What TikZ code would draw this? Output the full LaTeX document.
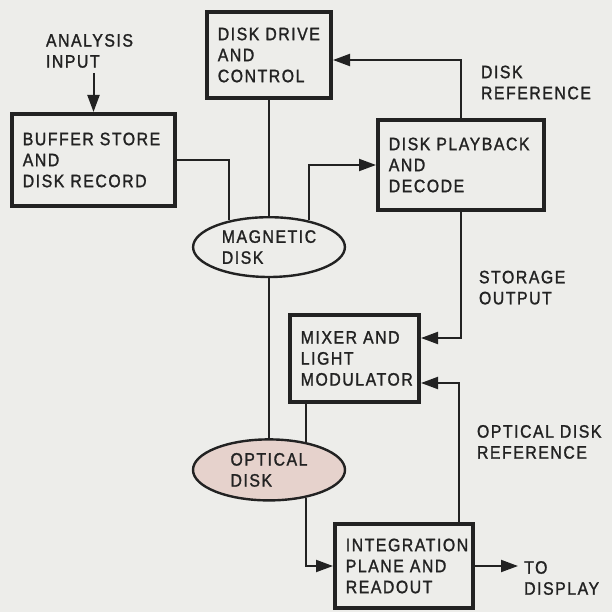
\documentclass[tikz,border=0pt]{standalone}
\usepackage{fontspec}
\setmainfont{Liberation Sans}[FakeStretch=0.88,LetterSpace=8.5,FakeBold=1.4]
\usetikzlibrary{arrows.meta,positioning,shapes.geometric}
\definecolor{ppaper}{HTML}{EDEDEA}
\definecolor{ppink}{HTML}{E6D2CC}
\definecolor{pline}{HTML}{222222}

\begin{document}
\begin{tikzpicture}[x=1pt,y=-1pt,
  font=\fontsize{18}{21}\selectfont,
  blk/.style 2 args={draw=pline,line width=3.6pt,align=left,text width=#1,
    minimum height=#2,inner xsep=11pt,inner ysep=2pt,text=pline},
  dsk/.style 2 args={ellipse,draw=pline,line width=2.4pt,align=left,
    minimum width=#1,minimum height=#2,inner sep=0pt,text=pline},
  q/.style={align=left,inner sep=0pt,text=pline},
  ln/.style={draw=pline,line width=2pt},
  arr/.style={ln,-{Triangle[length=17pt,width=12pt]}}]
  \fill[ppaper] (0,0) rectangle (612,612);
  \useasboundingbox (0,0) rectangle (612,612);
  \node[blk={102.4pt}{86.4pt}] (drive) at (269,55) {DISK~DRIVE\\AND\\CONTROL};
  \node[blk={141.4pt}{92.4pt},below left=12pt and 28pt of drive] (buffer)
    {BUFFER STORE\\AND\\DISK RECORD};
  \node[blk={144.4pt}{90.4pt},below right=18pt and 43pt of drive] (playback)
    {DISK PLAYBACK\\AND\\DECODE};
  \node[dsk={151.8pt}{59.8pt},below=116pt of drive] (magdisk) {MAGNETIC\\DISK};
  \node[dsk={152pt}{61pt},fill=ppink,below=160pt of magdisk] (optdisk) {OPTICAL\\DISK};
  \node[blk={107.4pt}{87.4pt},below=101pt of playback,xshift=-106.5pt] (mixer)
    {MIXER AND\\LIGHT\\MODULATOR};
  \node[blk={116.4pt}{84.4pt},below=118pt of mixer,xshift=49.5pt] (integ)
    {INTEGRATION\\PLANE AND\\READOUT};
  \coordinate[above=39pt of buffer.north] (ain);
  \node[q,above=5pt of ain,xshift=-4pt] (ainlbl) {ANALYSIS\\INPUT};
  \coordinate[right=43pt of integ] (disp);
  \node[q,right=6pt of disp,yshift=-12pt] (displbl) {TO\\DISPLAY};
  \draw[arr] (ain) -- (buffer.north);
  \draw[ln] (buffer.east) -| (magdisk.146);
  \draw[ln] (drive.south) -- (magdisk.north);
  \draw[arr] (magdisk.34) |- (playback.west);
  \draw[arr] (playback.north) |- node[q,pos=0.306,right=19pt] (dreflbl)
    {DISK\\REFERENCE} ([yshift=-5pt]drive.east);
  \draw[arr] (playback.south) |- node[q,pos=0.3,right=17pt] (storlbl)
    {STORAGE\\OUTPUT} ([yshift=20.5pt]mixer.east);
  \draw[ln] (magdisk.south) -- (optdisk.north);
  \draw[ln] (mixer.south -| optdisk.37) -- (optdisk.37);
  \draw[arr] (optdisk.-37) |- (integ.west);
  \draw[arr] ([xshift=-16pt]integ.north east) |- node[q,pos=0.288,right=17pt] (oreflbl)
    {OPTICAL DISK\\REFERENCE} ([yshift=-24.5pt]mixer.east);
  \draw[arr] (integ.east) -- (disp);
\end{tikzpicture}
\end{document}
